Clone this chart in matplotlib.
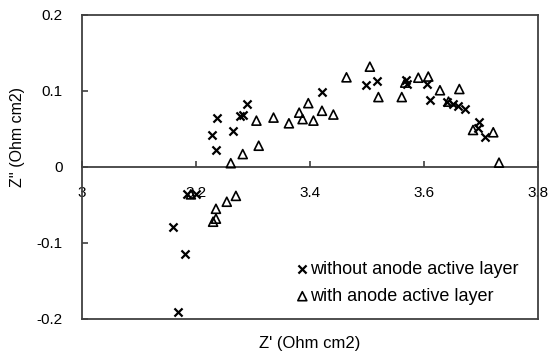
import matplotlib
matplotlib.use("Agg")
import matplotlib.pyplot as plt
from matplotlib.lines import Line2D

plt.rcParams['font.family'] = ['Liberation Sans', 'DejaVu Sans']

# without anode active layer (x markers)
without_x = [3.237, 3.228, 3.235, 3.265, 3.278, 3.283, 3.289, 3.4205, 3.498, 3.518,
             3.568, 3.570, 3.605, 3.611, 3.640, 3.651, 3.660, 3.672, 3.696, 3.694,
             3.7075, 3.160, 3.181, 3.168, 3.184, 3.200]
without_y = [0.064, 0.042, 0.023, 0.047, 0.0675, 0.0680, 0.0825, 0.099, 0.108, 0.1135,
             0.1145, 0.109, 0.109, 0.088, 0.085, 0.083, 0.080, 0.076, 0.0596, 0.051,
             0.040, -0.0786, -0.115, -0.191, -0.036, -0.036]

# with anode active layer (triangles)
with_x = [3.261, 3.282, 3.310, 3.306, 3.336, 3.363, 3.381, 3.387, 3.397, 3.406,
          3.421, 3.441, 3.464, 3.505, 3.520, 3.561, 3.567, 3.590, 3.6075, 3.628,
          3.662, 3.643, 3.686, 3.7215, 3.7316, 3.235, 3.254, 3.270, 3.230, 3.235, 3.191]
with_y = [0.005, 0.017, 0.028, 0.061, 0.065, 0.0575, 0.0715, 0.063, 0.084, 0.061,
          0.074, 0.069, 0.118, 0.132, 0.092, 0.092, 0.111, 0.1175, 0.119, 0.101,
          0.1026, 0.086, 0.0487, 0.0457, 0.0057, -0.055, -0.0457, -0.038, -0.072, -0.068, -0.036]

x_ticks = [3.0, 3.2, 3.4, 3.6, 3.8]
x_tick_labels = ['3', '3.2', '3.4', '3.6', '3.8']
y_ticks = [-0.2, -0.1, 0.0, 0.1, 0.2]
y_tick_labels = ['-0.2', '-0.1', '0', '0.1', '0.2']

fig = plt.figure(figsize=(5.49, 3.61), dpi=100)
ax = fig.add_axes([82/549, 1-319/361, (538-82)/549, (319-15)/361])

spine_color = '#404040'
ax.scatter(without_x, without_y, marker='x', s=34, c='black', linewidths=1.6,
           label='without anode active layer', zorder=3)
ax.scatter(with_x, with_y, marker='^', s=42, facecolors='none', edgecolors='black',
           linewidths=1.2, label='with anode active layer', zorder=3)

ax.set_xlim(3.0, 3.8)
ax.set_ylim(-0.2, 0.2)
ax.spines['bottom'].set_position(('data', 0))
for s in ax.spines.values():
    s.set_color(spine_color)
    s.set_linewidth(1.3)
ax.add_line(Line2D([0, 1], [0, 0], transform=ax.transAxes, color=spine_color,
                   lw=1.3, clip_on=False))

ax.set_xticks(x_ticks)
ax.set_xticklabels(x_tick_labels)
ax.set_yticks(y_ticks)
ax.set_yticklabels(y_tick_labels)
ax.tick_params(axis='x', direction='in', length=4, width=1.2, color=spine_color,
               pad=14, labelsize=11)
ax.tick_params(axis='y', direction='in', length=4, width=1.2, color=spine_color,
               pad=14, labelsize=11)

ax.set_xlabel("Z' (Ohm cm2)", fontsize=12)
ax.xaxis.set_label_coords(0.5, -0.055)
ax.set_ylabel("Z'' (Ohm cm2)", fontsize=11.5)
ax.yaxis.set_label_coords(-0.125, 0.6)

leg = ax.legend(loc='upper left', bbox_to_anchor=((296-82)/456, (319-261)/304),
                frameon=False, fontsize=13, handletextpad=0.1, handlelength=0.7,
                labelspacing=0.55, borderaxespad=0, borderpad=0)

fig.savefig('out.png', dpi=100)
